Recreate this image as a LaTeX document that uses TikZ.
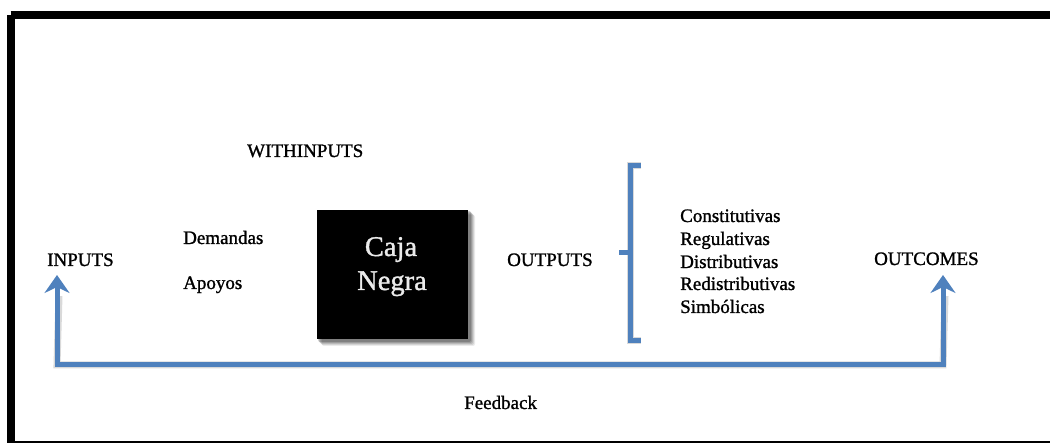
\documentclass[tikz,border=0pt]{standalone}
\usepackage{fontspec}
\setmainfont{Liberation Serif}[FakeBold=1.2]
\usetikzlibrary{arrows.meta,positioning}
\definecolor{flowblue}{RGB}{79,129,189}
\begin{document}
\begin{tikzpicture}[x=1pt,y=-1pt,
  lbl/.style={font=\fontsize{19}{22}\selectfont, inner sep=0pt, anchor=base west, text=black},
  bluepath/.style={draw=flowblue, line width=5pt},
  shadowpath/.style={draw=black, opacity=0.15, line width=7pt},
  blackbox/.style={fill=black, minimum width=151pt, minimum height=129pt, inner sep=0pt},
  >={Stealth[length=18pt,width=25pt,inset=6pt]}
]
\useasboundingbox (0,0) rectangle (1050,443);
\fill[white] (0,0) rectangle (1050,443);
% frame
\draw[line width=8pt, black] (10.5,15) -- (1100,15) (10.5,15) -- (10.5,445.5) -- (1100,445.5);

% texts
\node[lbl] (within) at (247,157) {WITHINPUTS};
\node[lbl] (dem) at (183,244) {Demandas};
\node[lbl] (apo) at (183,289) {Apoyos};
\node[lbl] (inp) at (47,266) {INPUTS};
\node[lbl] (outp) at (507,266) {OUTPUTS};
\node[lbl] (outc) at (874,265) {OUTCOMES};
\node[lbl] (fb) at (464,409) {Feedback};

\node[lbl] (l1) at (680,222) {Constitutivas};
\node[lbl] (l2) at (680,245) {Regulativas};
\node[lbl] (l3) at (680,268) {Distributivas};
\node[lbl] (l4) at (680,290) {Redistributivas};
\node[lbl] (l5) at (680,313) {Simbólicas};

% black box with soft shadow
\foreach \s/\o in {7/0.08,6/0.1,5/0.12,4/0.15,3/0.18}
  \fill[black, opacity=\o, rounded corners=2pt] (317+\s-2,210+\s-2) rectangle (468+\s,339+\s);
\node[blackbox] (box) at (392.5,274.5) {};
\node[font=\fontsize{28.5}{34}\selectfont, text=white!92!black, inner sep=0pt, anchor=base] (caja) at (391,256) {Caja};
\node[font=\fontsize{28.5}{34}\selectfont, text=white!92!black, inner sep=0pt, anchor=base] (negra) at (392,290) {Negra};

% bracket
\coordinate (bt) at (641,166);
\coordinate (bb) at (641,341);
\coordinate (bm) at (619,253);
\coordinate (bvt) at (630,166);
\coordinate (bvb) at (630,341);
\coordinate (bvm) at (630,253);
\draw[shadowpath, shift={(2,2)}] (bt) -- (bvt) -- (bvb) -- (bb);
\draw[bluepath] (bt) -- (bvt) -- (bvb) -- (bb);
\draw[bluepath] (bm) -- (bvm);

% feedback arrow
\coordinate (ina) at (57,275);
\coordinate (outa) at (943,275);
\coordinate (c1) at (57,365);
\coordinate (c2) at (943,365);
\draw[shadowpath, shift={(2,2)}] (57,294) -- (c1) -- (c2) -- (943,294);
\draw[bluepath, <->] (ina) -- (c1) -- (c2) -- (outa);
\end{tikzpicture}
\end{document}
